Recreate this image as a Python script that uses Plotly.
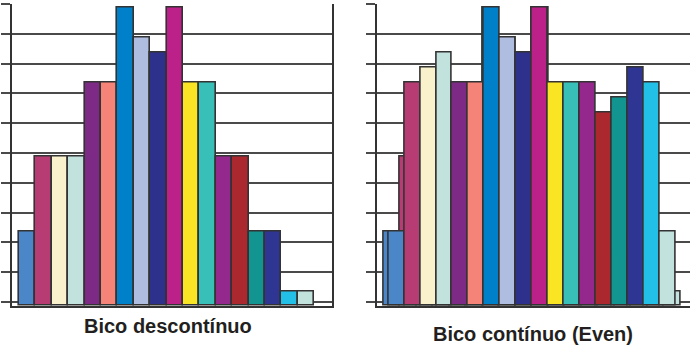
import plotly.graph_objects as go

# ---- data ----
nozzles = list(range(1, 19))
colors = ["#4a86c8", "#b83c74", "#f9f0cc", "#c2e2de", "#7d2a86", "#f58378",
          "#0080c8", "#aebde0", "#2e318c", "#bc2089", "#f9e523", "#37bfb8",
          "#94288c", "#ab282f", "#129590", "#2e3592", "#22c0e6", "#c2e2de"]
discont_vals = [2.5, 5, 5, 5, 7.5, 7.5, 10, 9, 8.5, 10, 7.5, 7.5, 5, 5, 2.5, 2.5, 0.5, 0.5]
cont_vals = [2.5, 7.5, 8, 8.5, 7.5, 7.5, 10, 9, 8.5, 10, 7.5, 7.5, 7.5, 6.5, 7, 8, 7.5, 2.5]
title_left = "Bico descontínuo"
title_right = "Bico contínuo (Even)"

W, H = 690, 348
idx = list(range(len(nozzles)))
outline = dict(color="#333333", width=1.6)

fig = go.Figure()
# left chart
fig.add_trace(go.Bar(x=idx, y=discont_vals, marker=dict(color=colors, line=outline),
                     width=1, xaxis="x", yaxis="y", showlegend=False, hoverinfo="y"))
# right chart, back layer (same values as discontinuous)
fig.add_trace(go.Bar(x=idx, y=discont_vals, marker=dict(color=colors, line=outline),
                     width=1, xaxis="x2", yaxis="y2", showlegend=False, hoverinfo="y"))
# right chart, front layer
fig.add_trace(go.Bar(x=idx, y=cont_vals, marker=dict(color=colors, line=outline),
                     width=1, xaxis="x3", yaxis="y2", showlegend=False, hoverinfo="y"))

ydom = [42 / H, 344.47 / H]
yrange = [0, 10.15]
yax = dict(domain=ydom, range=yrange, tick0=0.134, dtick=1, showticklabels=False,
           ticks="outside", ticklen=9, tickwidth=1.8, tickcolor="#4a4a4a",
           showgrid=True, gridcolor="#4a4a4a", gridwidth=1.8, zeroline=False,
           showline=True, linecolor="#333333", linewidth=2, fixedrange=True)
xax = dict(showgrid=False, zeroline=False, showticklabels=False, ticks="",
           showline=True, linecolor="#333333", linewidth=2, fixedrange=True)

fig.update_layout(
    width=W, height=H, margin=dict(l=0, r=0, t=0, b=0),
    paper_bgcolor="white", plot_bgcolor="white",
    barmode="overlay", bargap=0,
    xaxis=dict(xax, domain=[12 / W, 332 / W], range=[-0.927, 18.585], anchor="y"),
    yaxis=dict(yax, anchor="x", mirror=True),
    xaxis2=dict(xax, domain=[376.7 / W, 1.0], range=[-0.9, 18.088], anchor="y2"),
    yaxis2=dict(yax, anchor="x2"),
    xaxis3=dict(domain=[376.7 / W, 1.0], range=[-1.226, 18.392], overlaying="x2",
                anchor="y2", visible=False, fixedrange=True),
    annotations=[
        dict(text="<b>" + title_left + "</b>", x=168 / W, y=(H - 325.7) / H,
             xref="paper", yref="paper", xanchor="center", yanchor="middle",
             showarrow=False, font=dict(family="Liberation Sans, Arial", size=20, color="#231f20")),
        dict(text="<b>" + title_right + "</b>", x=533 / W, y=(H - 334) / H,
             xref="paper", yref="paper", xanchor="center", yanchor="middle",
             showarrow=False, font=dict(family="Liberation Sans, Arial", size=20, color="#231f20")),
    ],
)

fig.write_html("out.html", config={"displayModeBar": False},
               post_script="document.body.style.margin='0';document.body.style.overflow='hidden';")
